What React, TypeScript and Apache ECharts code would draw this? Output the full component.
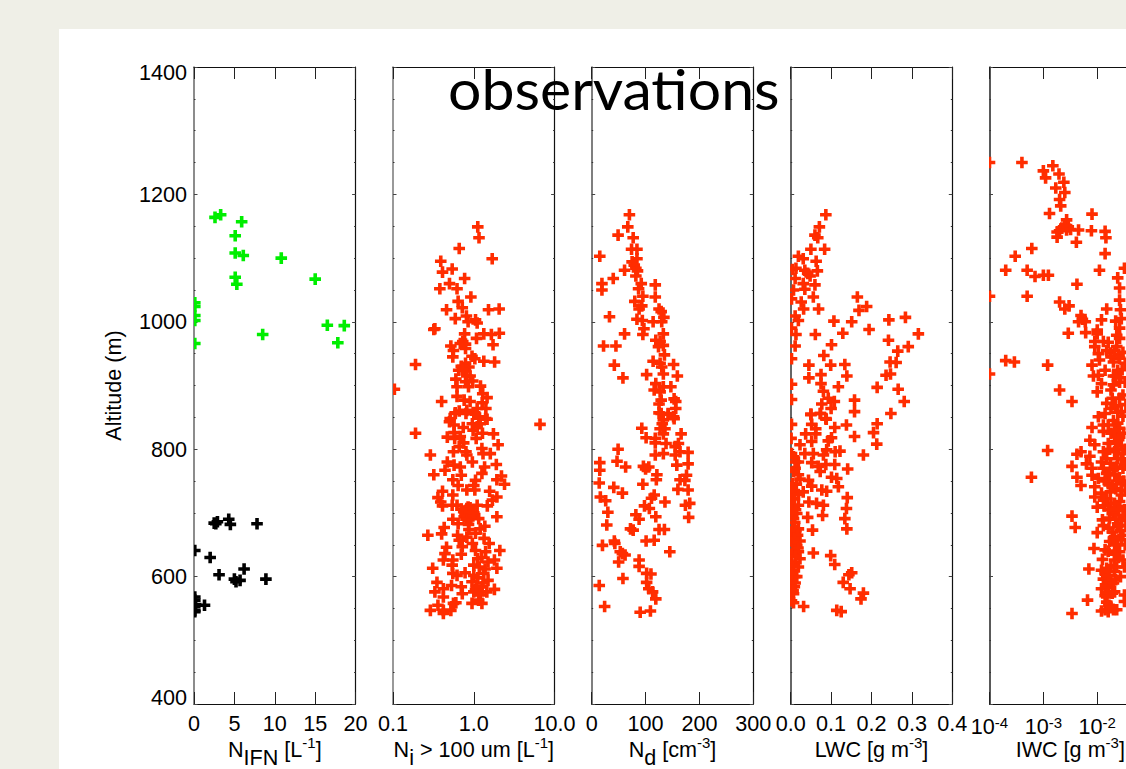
import React, { useEffect, useRef } from "react";
import * as echarts from "echarts";

const ifnBlack: number[][] = [[2.7,683],[2.9,686],[2.5,684],[4.3,690],[4.5,682],[7.8,683],[0.1,641],[2.0,630],[3.1,603],[5.0,596],[5.2,592],[5.7,594],[6.2,612],[8.9,596],[1.3,555],[0.1,553],[0.1,563],[0.1,568],[0.1,547],[0.1,545],[0.2,556]];
const ifnGreen: number[][] = [[2.6,1164],[3.3,1168],[5.9,1157],[5.1,1135],[5.1,1108],[6.1,1104],[10.8,1100],[15.0,1067],[5.1,1070],[5.3,1059],[0.1,1030],[0.1,1024],[0.1,1010],[0.1,1002],[0.1,966],[8.5,980],[16.5,994.5],[18.6,994],[17.8,967]];
const niPoints: number[][] = [[1.12,1149],[1.16,1132],[.66,1115],[1.69,1099],[.39,1095],[.41,1078],[.54,1083],[.77,1068],[.5,1060],[.38,1052],[.62,1052],[.92,1039],[.64,1032],[.72,1022],[.46,1019],[1.52,1019],[2.06,1020],[.81,1009],[.59,1005],[1.05,1003],[.85,1000],[1.1,998],[.32,988],[.33,989],[.77,981],[1.33,981],[1.65,980],[2.07,982],[1.08,974],[1.73,964],[.73,969],[.68,966],[.79,965],[.52,962],[.79,958],[.56,955],[.55,945],[.95,946],[1.03,942],[1.33,938],[1.81,937],[.19,933],[.79,935],[.7,930],[.87,929],[.65,924],[.79,924],[.9,915],[.6,910],[.97,907],[.79,906],[1.21,899],[.62,898],[.86,898],[.104,894],[1.29,887],[1.46,881],[.62,883],[.76,877],[.9,875],[.4,875],[1.27,873],[1.41,864],[1.1,864],[.82,861],[.59,857],[1.0,856],[.66,860],[1.46,847],[1.15,851],[.51,848],
[6.6,839],[.19,825],[.59,856],[.8,856],[1.05,855],[1.4,848],[.5,843],[.57,838],[.74,834],[.96,840],[1.2,840],[1.75,824],[.57,826],[.47,819],[1.28,825],[1.07,817],[.58,817],[2.0,807],[.75,810],[.66,804],[1.26,801],[.56,796],[.8,796],[1.6,793],[1.3,793],[.29,791],[.82,791],[.47,780],[.57,775],[.96,780],[1.9,776],[.44,767],[.68,772],[1.36,772],[1.26,762],[.32,760],[.7,759],[1.05,751],[2.2,758],[1.93,752],[2.4,745],[.55,752],[.64,743],[1.0,743],[.82,736],[.41,734],[1.57,734],[.55,728],[1.03,736],[.36,724],[1.93,725],[1.7,720],[.39,717],[.41,711],[.62,712],[.54,712],[1.1,712],[1.47,711],[.85,709],[.8,704],[.9,704],[.83,699],[.95,696],[.76,694],[.87,689],[1.93,694],[.55,690],[1.15,691],[.64,683],[1.37,679],[1.2,675],[.43,677],[.87,674],[.4,667],[.27,665],[.63,665],[.82,662],[1.05,668],[1.34,660],[1.55,652],[.66,657],[.96,652],[.46,646],[.72,647],[2.1,641],[1.05,641],[1.4,639],[.44,636],[.7,635],[.55,626],[.42,626],[1.8,626],[1.5,623],[1.0,618],[.54,618],[.31,613],[1.93,613],[1.17,615],[.78,606],[.55,605],[1.33,605],[1.0,602],[.62,602],[1.5,594],[.35,591],[.95,592],[.53,586],[.7,584],[1.8,580],[1.27,584],[.33,576],[.42,581],[1.0,576],[1.45,576],[.72,573],[1.2,571],[.42,568],[.95,558],[1.26,558],[.6,559],[.36,555],[.29,547],[.42,547],[.52,547],[.42,542],[.56,558],[1.15,563],
[.78,700],[.88,698],[.82,707],[.92,692],[.8,690],[.75,702],[.9,708],[1.0,700],[.7,706],[.86,682],[1.12,628],[1.25,630],[1.12,598],[1.3,590],[1.05,580],[1.15,572],[.68,820],[.98,830],[1.1,835],[.72,925],[.82,915],[1.08,585],[1.38,612]];
const ndPoints: number[][] = [[70,1168],[67,1149],[49,1136],[77,1132],[74,1114],[84,1114],[15,1103],[84,1099],[75,1094],[79,1089],[61,1081],[82,1084],[85,1080],[82,1072],[40,1068],[92,1060],[19,1060],[118,1058],[87,1052],[19,1050],[95,1040],[118,1039],[80,1032],[93,1025],[88,1020],[125,1020],[129,1016],[33,1008],[134,1007],[84,1004],[94,1002],[114,1000],[130,1000],[97,989],[133,981],[61,981],[95,980],[119,971],[127,969],[22,962],[45,962],[133,963],[124,961],[135,948],[114,938],[127,935],[152,933],[130,929],[42,932],[58,912],[102,917],[133,918],[159,915],[119,903],[133,898],[147,898],[116,893],[127,890],[153,879],[156,875],[129,877],[125,871],[156,864],[125,857],[142,856],[152,851],[133,846],
[129,856],[142,855],[153,848],[93,833],[131,840],[136,832],[127,832],[166,824],[133,824],[101,818],[118,817],[118,810],[138,809],[161,809],[155,804],[49,800],[164,796],[179,795],[133,793],[118,791],[155,791],[15,779],[47,781],[158,775],[179,777],[63,772],[96,773],[106,772],[100,769],[15,767],[121,760],[176,759],[164,752],[120,752],[14,747],[95,745],[173,751],[41,740],[179,736],[160,737],[57,731],[116,728],[16,725],[111,723],[26,719],[136,717],[182,715],[174,712],[98,711],[107,707],[30,701],[82,697],[119,694],[88,690],[180,693],[28,681],[72,675],[77,673],[125,674],[135,674],[101,656],[116,657],[42,656],[20,649],[43,652],[145,639],[53,639],[62,634],[57,636],[50,623],[88,626],[88,616],[102,605],[110,604],[58,597],[14,586],[102,591],[106,581],[113,576],[119,565],[24,553],[109,546],[90,544]];
const lwcPoints: number[][] = [[.087,1168],[.071,1149],[.06,1136],[.067,1132],[.05,1114],[.084,1114],[.019,1103],[.031,1099],[.063,1095],[.013,1084],[.004,1082],[.035,1081],[.066,1080],[.042,1076],[.048,1072],[.011,1068],[.031,1060],[.06,1058],[.007,1050],[.035,1051],[.056,1039],[.002,1036],[.026,1031],[.032,1020],[.069,1020],[.165,1039],[.169,1018],[.188,1024],[.011,1009],[.019,1002],[.107,1001],[.151,1000],[.243,1003],[.284,1007],[.002,990],[.194,988],[.013,980],[.061,980],[.129,982],[.316,981],[.242,971],[.011,962],[.101,964],[.291,961],[.265,954],[.082,947],[.002,942],[.246,937],[.261,936],[.045,932],[.099,932],[.134,933],[.075,917],[.045,912],[.139,915],[.236,916],[.247,918],[.002,902],[.075,903],[.118,898],[.214,897],[.266,894],[.081,891],[.002,878],[.093,880],[.108,875],[.158,877],[.281,875],[.077,871],[.1,864],[.158,859],[.248,856],[.05,854],[.074,856],[.087,848],
[.05,855],[.073,856],[.088,847],[.002,839],[.052,839],[.062,832],[.109,834],[.138,838],[.214,840],[.205,826],[.158,820],[.037,824],[.062,824],[.001,817],[.101,818],[.093,813],[.052,812],[.023,807],[.213,808],[.089,799],[.122,797],[.11,796],[.035,793],[.056,793],[.002,793],[.18,791],[.081,791],[.007,788],[.019,780],[.052,779],[.109,776],[.087,776],[.068,773],[.011,770],[.141,769],[.073,765],[.019,760],[.101,756],[.114,754],[.044,751],[.004,746],[.023,753],[.118,741],[.052,742],[.077,736],[.089,734],[.031,733],[.007,733],[.019,729],[.14,724],[.002,723],[.045,717],[.064,715],[.081,712],[.019,712],[.004,712],[.138,707],[.015,699],[.079,696],[.042,693],[.007,691],[.134,691],[.019,675],[.005,675],[.054,673],[.139,675],[.023,656],[.011,660],[.004,655],[.015,649],[.007,641],[.056,637],[.099,633],[.019,639],[.023,628],[.011,623],[.109,619],[.019,615],[.007,610],[.151,606],[.144,603],[.015,600],[.004,594],[.13,591],[.009,584],[.147,581],[.002,581],[.18,574],[.007,573],[.174,565],[.002,562],[.007,559],[.032,553],[.114,547],[.125,545],
[.012,780],[.007,765],[.014,745],[.003,740],[.009,722],[.012,705],[.003,700],[.01,685],[.002,670],[.012,668],[.006,650],[.018,645],[.002,635],[.012,632],[.003,618],[.01,600],[.003,605],[.011,590],[.006,578],[.013,672],[.017,665],[.008,660]];
const iwcPoints: number[][] = [[1e-4,1250],[4e-4,1250],[1e-3,1237],[1.5e-3,1245],[1.95e-3,1232],[1.1e-3,1226],[2.4e-3,1219],[1.7e-3,1210],[2.5e-3,1203],[2e-3,1192],[2.1e-3,1182],[1.3e-3,1170],[8e-3,1169],[2.7e-3,1160],[2.5e-3,1152],[2.9e-3,1149],[2.2e-3,1147],[2e-3,1143],[1.8e-3,1141],[2.7e-3,1144],[3.2e-3,1145],[4.5e-3,1144],[7.8e-3,1143],[1.4e-2,1142],[1.8e-3,1133],[1.45e-2,1132],[4.1e-3,1125],[1.4e-2,1107],[6.1e-4,1115],[3e-4,1103],[2e-4,1081],[5e-4,1081],[1.1e-2,1081],[7e-4,1071],[1e-3,1073],[1.24e-3,1073],[4.2e-3,1059],[3.2e-2,1084],[2.4e-2,1069],[2.6e-2,1053],[1e-4,1040],[5e-4,1040],[2.6e-2,1034],[2e-3,1031],[1.5e-2,1020],[3e-3,1025],[2.5e-3,1020],[2.7e-2,1019],[5e-3,1010],[1.2e-2,1003],[5.3e-3,1004],[4.5e-3,1000],[6e-3,1000],[2.2e-2,1001],[2.8e-2,1005],[1e-2,987],[2.6e-2,990],[2.9e-3,982],[6.1e-3,983],[1e-2,981],[2.3e-2,979],[2.6e-2,974],[9e-3,969],[1.3e-2,969],[1.6e-2,968],[9e-3,961],[2.3e-2,961],[1.05e-2,950],[1.75e-2,951],[2.6e-2,943],[2e-4,939],[2.9e-4,937],[1.2e-3,932],[8e-3,932],[1.1e-2,940],[2e-2,937],[1.4e-2,924],[2.4e-2,924],[1e-4,918],[8.5e-3,915],[1.05e-2,916],[2e-2,915],
[2e-3,893],[3.4e-3,875],[1.2e-2,903],[1e-2,890],[2e-2,901],[2.6e-2,880],[1.5e-2,872],[1.8e-2,864],[1.05e-2,851],[1.4e-2,856],[2.8e-2,859],[8e-3,834],[1.3e-2,838],[1.3e-2,828],[2.4e-2,841],[7.3e-3,814],[9e-3,807],[1.6e-2,809],[2.3e-2,820],[1.2e-3,798],[4.2e-3,792],[5e-3,796],[7.3e-3,789],[1.3e-2,796],[2.1e-2,796],[3e-2,793],[6.3e-3,777],[1.2e-2,780],[1.75e-2,778],[3.4e-3,773],[8e-3,770],[3e-2,770],[6e-4,756],[4.2e-3,756],[8e-3,759],[1.5e-2,762],[2.1e-2,760],[1.05e-2,754],[5e-3,743],[9e-3,741],[1.6e-2,746],[2.8e-2,746],[1.75e-2,733],[1.2e-2,731],[9e-3,725],[2.8e-2,728],[1.8e-2,715],[1e-2,709],[1.35e-2,711],[2.6e-2,710],[2.1e-2,697],[3.4e-3,695],[1.25e-2,689],[2.8e-2,689],[3.9e-3,677],[1.65e-2,676],[2.4e-2,678],[1e-2,669],[2.1e-2,663],[3e-2,665],[2.1e-2,650],[8.7e-3,644],[1.4e-2,642],[2.6e-2,639],[1.25e-2,627],[2.1e-2,626],[3e-2,626],[7e-3,612],[1.5e-2,613],[2.1e-2,608],[1.5e-2,600],[1.75e-2,589],[1.2e-2,581],[1.6e-2,584],[2.1e-2,576],[1.5e-2,568],[3.2e-2,571],[6.6e-3,563],[3.2e-2,561],[1.65e-2,555],[1.4e-2,548],[1.2e-2,546],[1.6e-2,545],[2e-2,548],[2.3e-2,548],[3.4e-3,542],
[.021,955],[.025,948],[.03,952],[.033,935],[.018,945],[.015,955],[.029,925],[.022,915],[.033,905],[.026,905],[.018,893],[.03,885],[.034,870],[.022,868],[.03,852],[.02,845],[.026,833],[.031,825],[.018,825],[.022,812],[.028,805],[.033,800],[.024,785],[.032,775],[.02,768],[.026,755],[.031,750],[.014,750],[.022,738],[.033,735],[.015,722],[.026,718],[.032,705],[.02,702],[.017,692],[.03,695],[.024,683],[.034,680],[.019,670],[.028,658],[.033,650],[.017,655],[.025,630],[.032,615],[.018,617],[.022,595],[.027,600],[.013,596],[.019,574],[.015,560],[.018,552],[.017,592],[.014,605],
[.027,912],[.019,880],[.024,858],[.016,838],[.021,830],[.025,815],[.017,800],[.024,800],[.015,785],[.028,785],[.013,770],[.023,772],[.017,760],[.023,750],[.019,742],[.028,735],[.013,720],[.021,715],[.016,705],[.025,705],[.022,690],[.013,680],[.027,672],[.02,660],[.024,650],[.016,640],[.021,635],[.023,615],[.012,610],[.016,602],[.02,590],[.014,570],[.016,575]];

const FONT = "Liberation Sans";
const RED = "#ff2d00";
const GREEN = "#00ee00";
const BLACK = "#000000";
const MARK_HALF = 5.8;
const MARK_ARM = 1.8;

const titleName = "observations";
const yName = "Altitude (m)";

const fixed = (d: number) => (v: number) => Number(v).toFixed(d);
const powerLabel = (v: number) => {
  const e = Math.round(Math.log10(v));
  return e >= -1 ? "" : `{b|10}{s|${e}}`;
};
const altLabel = (v: number) => (v === 1400 ? `{hi|${v}}` : v === 400 ? `{lo|${v}}` : String(v));

const panels = [
  { left: 194, type: "value", min: 0, max: 20, interval: 5, fmt: fixed(0), name: "{n|N}{sub|IFN}{n| [L}{sup|-1}{n|]}", leftColor: "#666666" },
  { left: 393, type: "log", min: 0.1, max: 10, fmt: fixed(1), name: "{n|N}{sub|i}{n| > 100 um [L}{sup|-1}{n|]}", leftColor: "#777777" },
  { left: 591.7, type: "value", min: 0, max: 300, interval: 100, fmt: fixed(0), name: "{n|N}{sub|d}{n| [cm}{sup|-3}{n|]}", leftColor: "#555555" },
  { left: 790.7, type: "value", min: 0, max: 0.4, interval: 0.1, fmt: fixed(1), name: "{n|LWC [g m}{sup|-3}{n|]}", leftColor: "#333333" },
  { left: 989.5, type: "log", min: 1e-4, max: 1e-1, fmt: powerLabel, name: "{n|IWC [g m}{sup|-3}{n|]}", leftColor: "#222222" },
];

const TOP = 67;
const PW = 161.6;
const PH = 637;
const FS = 21.6;

const nameRich = {
  n: { fontFamily: FONT, fontSize: FS, color: "#000", lineHeight: 36 },
  sub: { fontFamily: FONT, fontSize: FS, color: "#000", verticalAlign: "bottom", height: 20, lineHeight: 20 },
  sup: { fontFamily: FONT, fontSize: 15, color: "#000", verticalAlign: "top", height: 22, lineHeight: 22 },
};

const plusItem = (params: any, api: any) => {
  const [cx, cy] = api.coord([api.value(0), api.value(1)]);
  const h = MARK_HALF;
  const a = MARK_ARM;
  return {
    type: "polygon",
    shape: {
      points: [[cx - a, cy - h], [cx + a, cy - h], [cx + a, cy - a], [cx + h, cy - a], [cx + h, cy + a], [cx + a, cy + a], [cx + a, cy + h], [cx - a, cy + h], [cx - a, cy + a], [cx - h, cy + a], [cx - h, cy - a], [cx - a, cy - a]],
    },
    style: { fill: api.visual("color") },
    silent: true,
  };
};

function buildOption() {
  const grid = panels.map((p) => ({ left: p.left, top: TOP, width: PW, height: PH, outerBoundsMode: "none" }));
  const xAxis: any[] = [];
  const yAxis: any[] = [];
  panels.forEach((p, i) => {
    const base: any = { gridIndex: i, type: p.type, min: p.min, max: p.max, splitLine: { show: false }, minorTick: { show: false }, axisLine: { onZero: false, lineStyle: { color: "#111", width: 1 } }, axisTick: { show: true, inside: true, length: 12, lineStyle: { color: "#222", width: 1 } } };
    if (p.interval) base.interval = p.interval;
    if (p.type === "log") base.logBase = 10;
    xAxis.push({
      ...base, position: "bottom",
      axisLabel: { fontFamily: FONT, fontSize: FS, color: "#000", margin: 8, formatter: p.fmt, showMinLabel: true, showMaxLabel: true, hideOverlap: false, rich: { b: { fontFamily: FONT, fontSize: FS, color: "#000", lineHeight: 28 }, s: { fontFamily: FONT, fontSize: 15, color: "#000", verticalAlign: "top", height: 20, lineHeight: 20 } } },
      name: p.name, nameLocation: "middle", nameGap: 27, nameMoveOverlap: false, nameTextStyle: { rich: nameRich, fontFamily: FONT, fontSize: FS, color: "#000" },
    });
    xAxis.push({ ...base, position: "top", axisLabel: { show: false } });
    const yBase: any = {
      gridIndex: i, type: "value", min: 400, max: 1400, interval: 200, splitLine: { show: false },
      axisTick: { show: true, inside: true, length: 3.5, lineStyle: { color: "#444", width: 1 } },
      minorTick: { show: true, splitNumber: 4, length: 1.5, lineStyle: { color: "#333", width: 1 } },
    };
    yAxis.push({
      ...yBase, position: "left",
      axisLine: { show: true, onZero: false, lineStyle: { color: p.leftColor, width: 1.5 } },
      axisLabel: i === 0
        ? { fontFamily: FONT, fontSize: FS, color: "#000", margin: 7, formatter: altLabel, verticalAlignMinLabel: "bottom", verticalAlignMaxLabel: "top", showMinLabel: true, showMaxLabel: true,
            rich: { hi: { fontFamily: FONT, fontSize: FS, color: "#000", lineHeight: 10 }, lo: { fontFamily: FONT, fontSize: FS, color: "#000", lineHeight: 14 } } }
        : { show: false },
      ...(i === 0
        ? { name: yName, nameLocation: "middle", nameRotate: 90, nameGap: 70, nameMoveOverlap: false, nameTextStyle: { fontFamily: FONT, fontSize: FS, color: "#000" } }
        : {}),
    });
    yAxis.push({
      ...yBase, position: "right",
      axisLine: { show: true, onZero: false, lineStyle: { color: "#111", width: 1.2 } },
      axisLabel: { show: false },
    });
  });
  const marks = (name: string, data: number[][], idx: number, color: string) => ({
    name, type: "custom", coordinateSystem: "cartesian2d", xAxisIndex: idx * 2, yAxisIndex: idx * 2,
    data, renderItem: plusItem, encode: { x: 0, y: 1 }, clip: true, silent: true, itemStyle: { color },
  });
  return {
    animation: false,
    backgroundColor: "transparent",
    grid, xAxis, yAxis,
    series: [
      marks("IFN low", ifnBlack, 0, BLACK),
      marks("IFN high", ifnGreen, 0, GREEN),
      marks("Ni", niPoints, 1, RED),
      marks("Nd", ndPoints, 2, RED),
      marks("LWC", lwcPoints, 3, RED),
      marks("IWC", iwcPoints, 4, RED),
    ],
    graphic: [{
      type: "text", x: 448, y: 59.5, scaleX: 1.035, z: 100,
      style: { text: titleName, fontFamily: "Lato", fontSize: 57, fill: "#000" },
    }],
  };
}

export default function App() {
  const ref = useRef<HTMLDivElement>(null);
  useEffect(() => {
    const chart = echarts.init(ref.current!, undefined, { renderer: "svg" });
    chart.setOption(buildOption() as any);
    return () => chart.dispose();
  }, []);
  return (
    <div style={{ position: "fixed", left: 0, top: 0, width: 1126, height: 769, overflow: "hidden", background: "#efefe7" }}>
      <div style={{ position: "absolute", left: 59, top: 29, width: 1067, height: 740, background: "#fff" }} />
      <div ref={ref} style={{ position: "absolute", left: 0, top: 0, width: 1126, height: 769 }} />
    </div>
  );
}
